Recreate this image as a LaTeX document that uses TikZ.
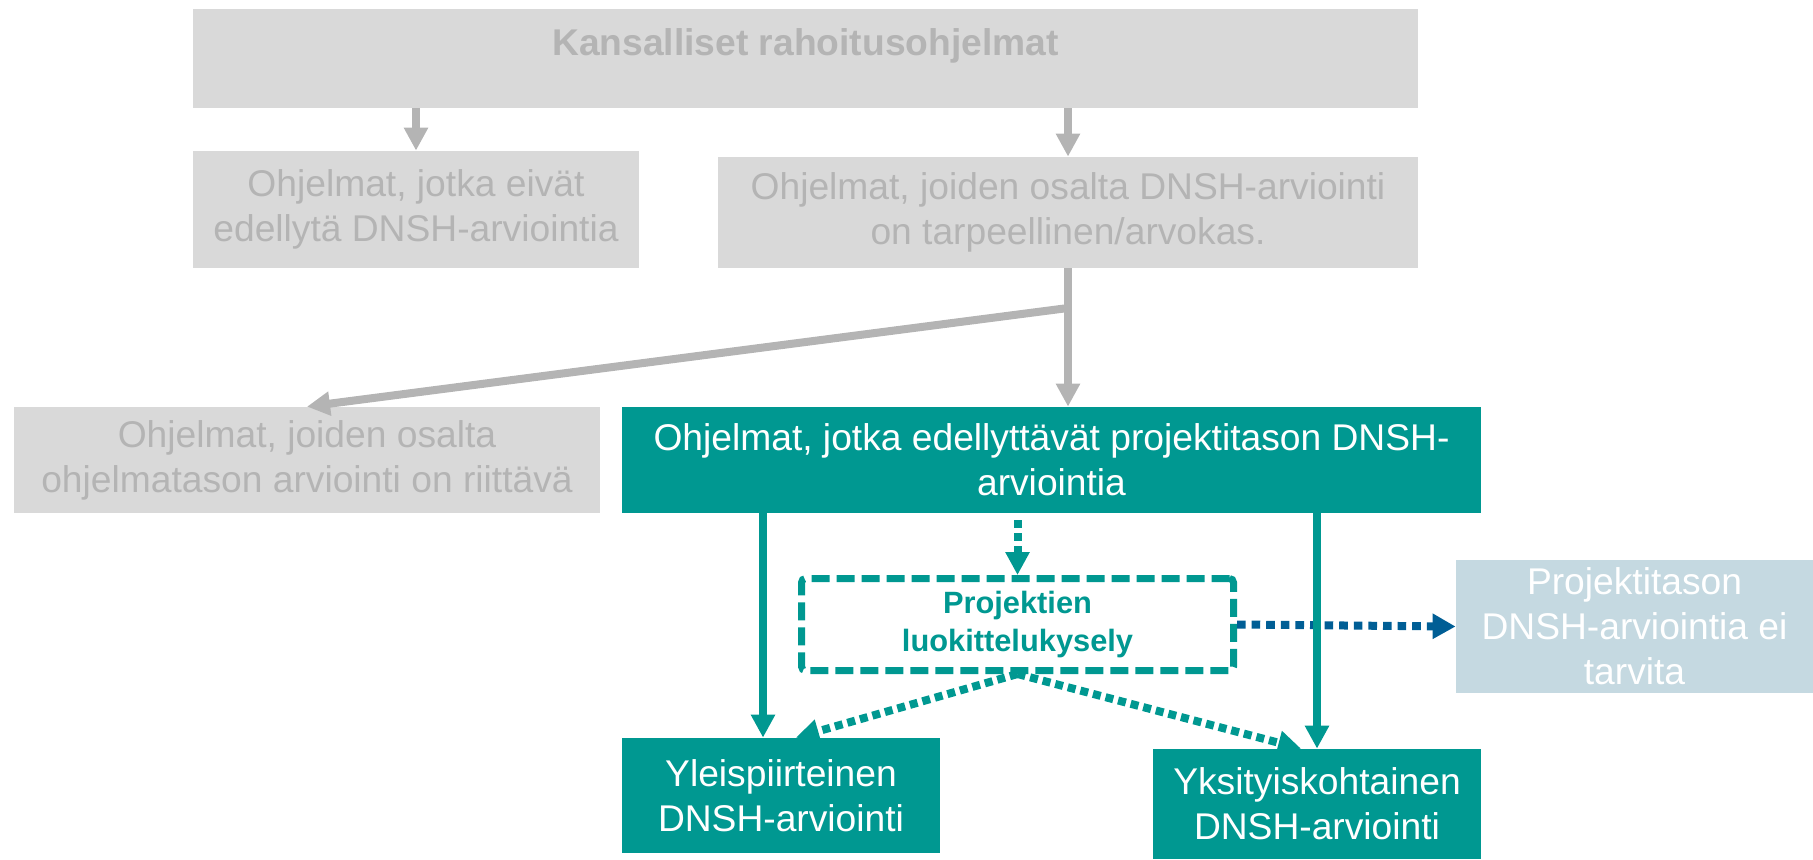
\documentclass[tikz,border=0pt]{standalone}
\usepackage{fontspec}
\setmainfont{Liberation Sans}
\usetikzlibrary{arrows.meta}

\definecolor{boxgray}{HTML}{D9D9D9}
\definecolor{textgray}{HTML}{B4B4B4}
\definecolor{petrol}{HTML}{009891}
\definecolor{navy}{HTML}{005E95}
\definecolor{paleblue}{HTML}{C5D9E1}

\begin{document}
\begin{tikzpicture}[x=0.5pt, y=-0.5pt,
  every node/.style = {shape=rectangle, align=center, inner sep=0pt,
    font=\fontsize{18.6}{22.5}\selectfont},
  graybox/.style = {fill=boxgray, text=textgray},
  tealbox/.style = {fill=petrol, text=white},
  surveybox/.style = {draw=petrol, line width=3.5pt, dash pattern=on 9pt off 3.5pt,
    rounded corners=2pt, text=petrol, font=\fontsize{15.4}{19}\selectfont\bfseries},
  grayarrow/.style = {draw=textgray, line width=4pt,
    -{Triangle[length=11.5pt, width=11.5pt]}},
  tealarrow/.style = {draw=petrol, line width=3.7pt,
    -{Triangle[length=11.5pt, width=11.5pt]}},
  dotarrow/.style = {tealarrow, line width=4pt, dash pattern=on 4pt off 2.5pt},
  bluearrow/.style = {draw=navy, line width=4pt, dash pattern=on 4.3pt off 3pt,
    -{Triangle[length=11.5pt, width=12pt]}}]

  \useasboundingbox (0,0) rectangle (1813,859);

  \node[graybox, minimum width=612.5pt, text height=23pt, text depth=26.5pt,
    font=\fontsize{18.6}{22.5}\selectfont\bfseries, anchor=base]
    (national) at (805.5,55) {Kansalliset rahoitusohjelmat};
  \node[graybox, minimum width=223pt, minimum height=58.5pt]
    (noneed) at (416,209.5) {Ohjelmat, jotka eivät\\edellytä DNSH-arviointia};
  \node[graybox, minimum width=350pt, minimum height=55.5pt]
    (needed) at (1068,212.5) {Ohjelmat, joiden osalta DNSH-arviointi\\on tarpeellinen/arvokas.};
  \node[graybox, minimum width=293pt, minimum height=53pt]
    (proglevel) at (307,460) {Ohjelmat, joiden osalta\\ohjelmatason arviointi on riittävä};
  \node[tealbox, minimum width=429.5pt, minimum height=53pt]
    (projlevel) at (1051.5,460) {Ohjelmat, jotka edellyttävät projektitason DNSH-\\arviointia};
  \node[surveybox, minimum width=216pt, minimum height=46pt]
    (survey) at (1017.5,624.5) {Projektien\\luokittelukysely};
  \node[fill=paleblue, text=white, minimum width=178.5pt, minimum height=66.5pt]
    (noproj) at (1634.5,626.5) {Projektitason\\DNSH-arviointia ei\\tarvita};
  \node[tealbox, minimum width=159pt, minimum height=57.5pt]
    (general) at (781,795.5) {Yleispiirteinen\\DNSH-arviointi};
  \node[tealbox, minimum width=164pt, minimum height=55pt]
    (detail) at (1317,804) {Yksityiskohtainen\\DNSH-arviointi};

  \coordinate (split) at (1068,308);
  \coordinate (genline) at (763,0);

  \draw[grayarrow] (national.south -| noneed.north) -- (noneed.north);
  \draw[grayarrow] (national.south -| needed.north) -- (needed.north);
  \draw[grayarrow] (needed.south) -- (split |- projlevel.north);
  \draw[grayarrow] (split) -- (proglevel.north);

  \draw[bluearrow] (survey.east) -- (noproj.west);
  \draw[tealarrow] (projlevel.south -| genline) -- (general.north -| genline);
  \draw[tealarrow] (projlevel.south -| detail.north) -- (detail.north);
  \draw[dotarrow, shorten <=3.5pt] (projlevel.south -| survey.north) -- (survey.north);
  \draw[dotarrow] (survey.south) -- ([xshift=7.5pt]general.north);
  \draw[dotarrow] (survey.south) -- ([xshift=-8pt]detail.north);

\end{tikzpicture}
\end{document}
